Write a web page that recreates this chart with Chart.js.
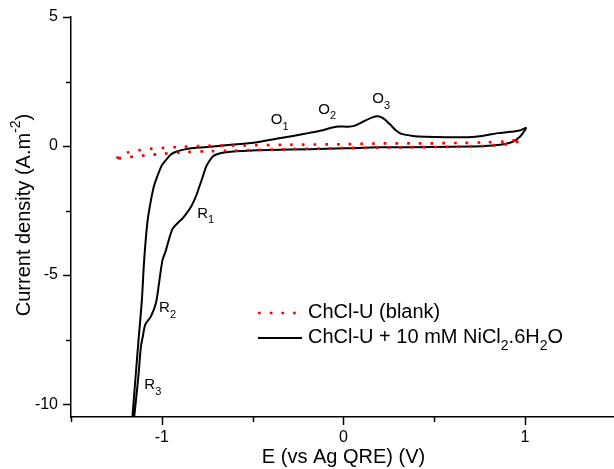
<!DOCTYPE html>
<html>
<head>
<meta charset="utf-8">
<script src="https://cdn.jsdelivr.net/npm/chart.js@4.4.1/dist/chart.umd.min.js"></script>
<style>
  html, body { margin: 0; padding: 0; background: #fff; }
  #wrap { width: 614px; height: 469px; }
</style>
</head>
<body>
<div id="wrap"><canvas id="cv" width="614" height="469"></canvas></div>
<script>
// ChCl-U (blank), red dotted loop: out along the upper row, back along the lower one
const blankE = [-1.25, -1.183, -1.118, -1.05, -0.986, -0.92, -0.79, -0.6, -0.3, 0.0, 0.19, 0.4, 0.64, 0.77, 0.907, 0.975,
                0.972, 0.907, 0.842, 0.779, 0.6, 0.3, 0.0, -0.3, -0.61, -0.744, -0.876, -1.008, -1.073, -1.137, -1.2, -1.25];
const blankJ = [-0.47, -0.24, -0.155, -0.10, -0.07, -0.04, 0.0, 0.02, 0.05, 0.07, 0.10, 0.10, 0.12, 0.14, 0.18, 0.26,
                0.20, 0.08, 0.04, 0.0, -0.03, -0.05, -0.08, -0.12, -0.18, -0.20, -0.24, -0.31, -0.35, -0.39, -0.45, -0.49];

// ChCl-U + 10 mM NiCl2.6H2O, black loop
const niE = [-1.162, -1.145, -1.128, -1.11, -1.097, -1.08, -1.065, -1.045, -1.032, -1.0, -0.977, -0.95, -0.922, -0.867,
             -0.8, -0.738, -0.65, -0.536, -0.45, -0.37, -0.27, -0.186, -0.12, -0.06, -0.02, 0.02, 0.06, 0.11, 0.16, 0.19,
             0.22, 0.255, 0.29, 0.32, 0.383, 0.45, 0.567, 0.68, 0.751, 0.80, 0.85, 0.92, 0.97, 1.005,
             0.99, 0.972, 0.935, 0.88, 0.80, 0.70, 0.5, 0.2, 0.0, -0.186, -0.4, -0.554, -0.62, -0.665, -0.70, -0.72,
             -0.74, -0.756, -0.775, -0.793, -0.815, -0.839, -0.865, -0.885, -0.915, -0.94, -0.96, -0.98, -0.996,
             -1.015, -1.032, -1.06, -1.091, -1.105, -1.115, -1.13, -1.152];
const niJ = [-10.5, -9.0, -7.5, -6.0, -4.41, -3.0, -2.3, -1.6, -1.31, -0.75, -0.54, -0.33, -0.22, -0.12,
             -0.06, -0.03, 0.03, 0.10, 0.18, 0.28, 0.40, 0.51, 0.60, 0.72, 0.76, 0.75, 0.78, 0.95, 1.11, 1.15,
             1.07, 0.85, 0.60, 0.47, 0.39, 0.36, 0.34, 0.34, 0.38, 0.44, 0.50, 0.55, 0.60, 0.70,
             0.52, 0.36, 0.17, 0.07, 0.01, -0.02, -0.04, -0.05, -0.09, -0.12, -0.15, -0.19, -0.22, -0.26, -0.33, -0.41,
             -0.6, -0.8, -1.2, -1.57, -2.0, -2.35, -2.62, -2.8, -3.0, -3.2, -3.6, -4.1, -4.41,
             -5.3, -6.07, -6.6, -6.92, -7.4, -7.76, -9.0, -10.5];

const xTickValues = [-1.5, -1, -0.5, 0, 0.5, 1];
const xTickLabels = ['', '-1', '', '0', '', '1'];
const yTickValues = [-10, -7.5, -5, -2.5, 0, 2.5, 5];
const yTickLabels = ['-10', '', '-5', '', '0', '', '5'];

// peak names, placed in data coordinates (left edge, middle of the letter)
const peakNames = [
  { base: 'O', sub: '1', at: [-0.40, 1.0] },
  { base: 'O', sub: '2', at: [-0.138, 1.42] },
  { base: 'O', sub: '3', at: [0.159, 1.82] },
  { base: 'R', sub: '1', at: [-0.805, -2.61] },
  { base: 'R', sub: '2', at: [-1.015, -6.27] },
  { base: 'R', sub: '3', at: [-1.096, -9.26] }
];

const FONT = "'Liberation Sans', Arial, sans-serif";
const DOTS = [2.7, 9];

// text made of pieces: [text, 'n' | 'sub' | 'sup']
function piecesWidth(ctx, pieces, size) {
  let w = 0;
  pieces.forEach(([t, k]) => {
    ctx.font = (k === 'n' ? size : Math.round(size * 0.7)) + 'px ' + FONT;
    w += ctx.measureText(t).width;
  });
  return w;
}

function drawPieces(ctx, pieces, x, y, size) {
  ctx.textAlign = 'left';
  ctx.textBaseline = 'middle';
  pieces.forEach(([t, k]) => {
    const small = Math.round(size * 0.7);
    ctx.font = (k === 'n' ? size : small) + 'px ' + FONT;
    let dy = 0;
    if (k === 'sub') dy = size * 0.45;
    if (k === 'sup') dy = -size * 0.4;
    ctx.fillText(t, x, y + dy);
    x += ctx.measureText(t).width;
  });
}

const extras = {
  id: 'extras',
  afterDraw(chart) {
    const ctx = chart.ctx;
    const xs = chart.scales.x;
    const ys = chart.scales.y;
    const area = chart.chartArea;
    ctx.save();
    ctx.fillStyle = '#000';
    ctx.strokeStyle = '#000';
    ctx.lineWidth = 1.5;

    // ticks, outward, minor ones shorter
    xTickValues.forEach((v, i) => {
      const px = Math.round(xs.getPixelForValue(v)) + 0.5;
      const len = xTickLabels[i] ? 8 : 5;
      ctx.beginPath();
      ctx.moveTo(px, area.bottom);
      ctx.lineTo(px, area.bottom + len);
      ctx.stroke();
    });
    yTickValues.forEach((v, i) => {
      const py = Math.round(ys.getPixelForValue(v)) + 0.5;
      const len = yTickLabels[i] ? 8 : 5;
      ctx.beginPath();
      ctx.moveTo(area.left, py);
      ctx.lineTo(area.left - len, py);
      ctx.stroke();
    });

    // axis titles
    ctx.font = '20px ' + FONT;
    ctx.textAlign = 'center';
    ctx.textBaseline = 'middle';
    ctx.fillText('E (vs Ag QRE) (V)', (area.left + area.right) / 2 + 1, 457);

    const yTitle = [['Current density (A.m', 'n'], ['-2', 'sup'], [')', 'n']];
    ctx.save();
    ctx.translate(24, (area.top + area.bottom) / 2 - 2);
    ctx.rotate(-Math.PI / 2);
    drawPieces(ctx, yTitle, -piecesWidth(ctx, yTitle, 20) / 2, 0, 20);
    ctx.restore();

    // peak names
    peakNames.forEach(p => {
      const px = xs.getPixelForValue(p.at[0]);
      const py = ys.getPixelForValue(p.at[1]);
      drawPieces(ctx, [[p.base, 'n'], [p.sub, 'sub']], px, py, 15);
    });

    // legend
    ctx.lineWidth = 2.7;
    ctx.strokeStyle = '#ff0000';
    ctx.setLineDash(DOTS);
    ctx.beginPath();
    ctx.moveTo(258, 313);
    ctx.lineTo(300, 313);
    ctx.stroke();
    ctx.setLineDash([]);
    ctx.lineWidth = 2;
    ctx.strokeStyle = '#000';
    ctx.beginPath();
    ctx.moveTo(258, 338);
    ctx.lineTo(302, 338);
    ctx.stroke();
    drawPieces(ctx, [['ChCl-U (blank)', 'n']], 308, 312, 20);
    drawPieces(ctx, [['ChCl-U + 10 mM NiCl', 'n'], ['2', 'sub'], ['.6H', 'n'], ['2', 'sub'], ['O', 'n']], 308, 337, 20);

    ctx.restore();
  }
};

new Chart(document.getElementById('cv'), {
  type: 'scatter',
  data: {
    datasets: [
      {
        label: 'ChCl-U (blank)',
        data: blankE.map((e, i) => ({ x: e, y: blankJ[i] })),
        showLine: true,
        borderColor: '#ff0000',
        borderWidth: 2.7,
        borderDash: DOTS,
        pointRadius: 0,
        tension: 0.3
      },
      {
        label: 'ChCl-U + 10 mM NiCl2.6H2O',
        data: niE.map((e, i) => ({ x: e, y: niJ[i] })),
        showLine: true,
        borderColor: '#000',
        borderWidth: 2,
        pointRadius: 0,
        tension: 0.3
      }
    ]
  },
  options: {
    responsive: false,
    animation: false,
    devicePixelRatio: 1,
    layout: { padding: { top: 17, right: 0, left: 0, bottom: 0 } },
    plugins: { legend: { display: false }, tooltip: { enabled: false } },
    scales: {
      x: {
        type: 'linear',
        min: -1.5,
        max: 1.49,
        afterBuildTicks: s => { s.ticks = xTickValues.map(v => ({ value: v })); },
        afterFit: s => { s.height = 52; },
        grid: { drawOnChartArea: false, color: 'rgba(0,0,0,0)', tickLength: 8 },
        border: { display: true, color: '#000', width: 1.5 },
        ticks: {
          color: '#000',
          font: { family: FONT, size: 16 },
          padding: 3,
          maxRotation: 0,
          autoSkip: false,
          callback: (v, i) => xTickLabels[i]
        }
      },
      y: {
        type: 'linear',
        min: -10.5,
        max: 5,
        afterBuildTicks: s => { s.ticks = yTickValues.map(v => ({ value: v })); },
        afterFit: s => { s.width = 71; },
        grid: { drawOnChartArea: false, color: 'rgba(0,0,0,0)', tickLength: 8 },
        border: { display: true, color: '#000', width: 1.5 },
        ticks: {
          color: '#000',
          font: { family: FONT, size: 16 },
          padding: 5,
          autoSkip: false,
          callback: (v, i) => yTickLabels[i]
        }
      }
    }
  },
  plugins: [extras]
});
</script>
</body>
</html>
